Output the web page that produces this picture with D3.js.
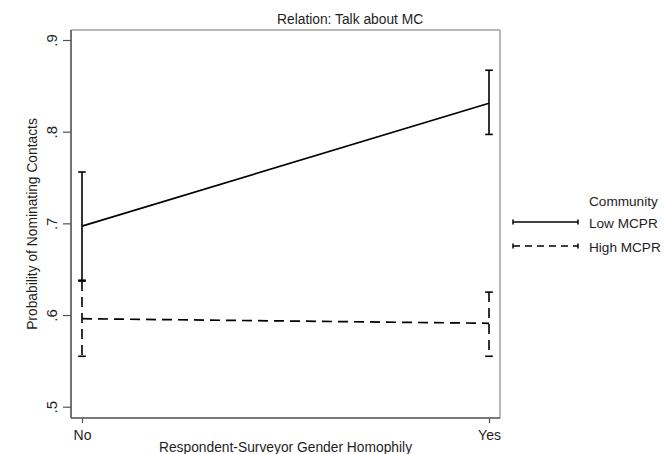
<!DOCTYPE html>
<html>
<head>
<meta charset="utf-8">
<script src="https://cdn.jsdelivr.net/npm/d3@7"></script>
<style>
    body {margin:0; background:#fff;}
    svg text {font-family:Arial, "Liberation Sans", sans-serif; fill:#1e1e1e;}
</style>
</head>
<body>
<svg class="svg" width="664" height="454"></svg>
<script>
let categories = ['No','Yes'];
let seriesNames = ['Low MCPR','High MCPR'];
let lowMean = [0.697, 0.831];
let lowLower = [0.638, 0.797];
let lowUpper = [0.756, 0.867];
let highMean = [0.596, 0.591];
let highLower = [0.555, 0.555];
let highUpper = [0.637, 0.625];
let yTicks = [0.5, 0.6, 0.7, 0.8, 0.9];

let titleText = 'Relation: Talk about MC';
let xTitle = 'Respondent-Surveyor Gender Homophily';
let yTitle = 'Probability of Nominating Contacts';
let legendTitle = 'Community';

let boxLeft = 71, boxRight = 500, boxTop = 30, boxBottom = 418;
let dashes = ['none', '10,6'];
let fontSize = '13.8px';

let svg = d3.select('.svg');

let x = d3.scalePoint().domain(categories).range([82, 489]);
let y = d3.scaleLinear().domain([0.5, 0.9]).range([406.7, 40]);

// plot region outline (top/right light gray)
svg.append('line').attr('x1',boxLeft).attr('x2',boxRight).attr('y1',boxTop).attr('y2',boxTop)
    .style('stroke','#a0a0a0').style('stroke-width',1.5);
svg.append('line').attr('x1',boxRight).attr('x2',boxRight).attr('y1',boxTop).attr('y2',boxBottom)
    .style('stroke','#a0a0a0').style('stroke-width',1.5);

// y axis
let yAxis = svg.append('g').attr('transform','translate('+boxLeft+',0)')
    .call(d3.axisLeft(y).tickValues(yTicks).tickSize(8).tickSizeOuter(0)
        .tickFormat(function (d) { return d3.format('.1f')(d).replace(/^0/, ''); }));
yAxis.select('.domain').attr('d','M0,'+boxTop+'V'+boxBottom).style('stroke','#505050').style('stroke-width',1.6);
yAxis.selectAll('.tick line').style('stroke','#505050').style('stroke-width',1.2);
yAxis.selectAll('.tick text')
    .attr('x',0).attr('dy',0).attr('y',0)
    .attr('text-anchor','middle')
    .attr('transform','translate(-14,0) rotate(-90)')
    .style('font-size','15px').style('fill','#1e1e1e');

// x axis
let xAxis = svg.append('g').attr('transform','translate(0,'+boxBottom+')')
    .call(d3.axisBottom(x).tickSize(5).tickSizeOuter(0));
xAxis.select('.domain').attr('d','M'+boxLeft+',0H'+boxRight).style('stroke','#505050').style('stroke-width',1.6);
xAxis.selectAll('.tick line').style('stroke','#505050').style('stroke-width',1.2);
xAxis.selectAll('.tick text').attr('y',22).attr('dy',0)
    .style('font-size','14px').style('fill','#1e1e1e').style('font-family','Arial, "Liberation Sans", sans-serif');

// titles
svg.append('text').attr('x',277).attr('y',24).text(titleText).style('font-size',fontSize);
svg.append('text').attr('x',(boxLeft+boxRight)/2).attr('y',452).attr('text-anchor','middle')
    .text(xTitle).style('font-size',fontSize);
svg.append('text').attr('transform','translate(37,'+((boxTop+boxBottom)/2)+') rotate(-90)')
    .attr('text-anchor','middle').text(yTitle).style('font-size',fontSize);

// series
let series = [
    {name: seriesNames[0], mean: lowMean, lo: lowLower, hi: lowUpper},
    {name: seriesNames[1], mean: highMean, lo: highLower, hi: highUpper}
];
let line = d3.line().x(function (d) { return x(d[0]); }).y(function (d) { return y(d[1]); });

for(let s = series.length - 1; s >= 0; s--){
    let g = svg.append('g').attr('class','series');
    let pts = categories.map(function (c, i) { return [c, series[s].mean[i]]; });
    g.append('path').attr('d', line(pts))
        .style('fill','none').style('stroke','#000').style('stroke-width',1.7)
        .style('stroke-dasharray', dashes[s]);
    for(let i = 0; i < categories.length; i++){
        let cx = x(categories[i]);
        g.append('line').attr('x1',cx).attr('x2',cx)
            .attr('y1',y(series[s].hi[i])).attr('y2',y(series[s].lo[i]))
            .style('stroke','#000').style('stroke-width',1.6).style('stroke-dasharray', dashes[s]);
        [series[s].hi[i], series[s].lo[i]].forEach(function (v) {
            g.append('line').attr('x1',cx-3.8).attr('x2',cx+3.8).attr('y1',y(v)).attr('y2',y(v))
                .style('stroke','#000').style('stroke-width',1.6);
        });
    }
}

// legend
let legend = svg.append('g').attr('class','legend');
legend.append('text').attr('x',589).attr('y',206).text(legendTitle).style('font-size','13.6px');
for(let i = 0; i < seriesNames.length; i++){
    let ly = 222 + i*24;
    legend.append('line').attr('x1',513).attr('x2',578).attr('y1',ly).attr('y2',ly)
        .style('stroke','#000').style('stroke-width',1.5)
        .style('stroke-dasharray', i === 0 ? 'none' : '7,5');
    legend.append('line').attr('x1',513).attr('x2',513).attr('y1',ly-2.5).attr('y2',ly+2.5)
        .style('stroke','#000').style('stroke-width',1.5);
    legend.append('line').attr('x1',578).attr('x2',578).attr('y1',ly-2.5).attr('y2',ly+2.5)
        .style('stroke','#000').style('stroke-width',1.5);
    legend.append('text').attr('x',589).attr('y',ly+5.5).text(seriesNames[i]).style('font-size','13.6px');
}
</script>
</body>
</html>
